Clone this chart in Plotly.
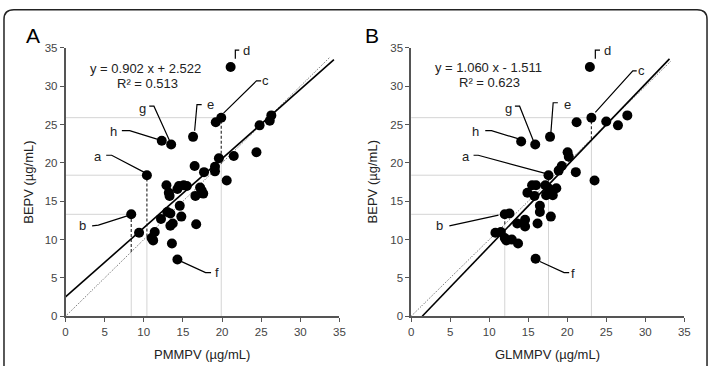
import plotly.graph_objects as go

# ---------------- data ----------------
# Panel A: PMMPV (x) vs BEPV (y)
pm_x = [8.4, 9.4, 10.4, 11.0, 11.2, 11.4, 12.2, 12.3, 12.9, 13.0, 13.2, 13.3, 13.4, 13.4, 13.5,
        13.6, 13.7, 14.3, 14.3, 14.5, 14.6, 14.8, 15.1, 15.5, 16.3, 16.5, 16.6, 16.7, 17.2, 17.4,
        17.6, 17.7, 19.1, 19.1, 19.2, 19.6, 19.9, 20.6, 21.1, 21.5, 24.4, 24.8, 26.1, 26.3]
pm_y = [13.3, 10.9, 18.4, 10.2, 9.9, 11.0, 12.7, 22.9, 17.1, 13.6, 16.1, 15.7, 13.4, 11.8, 22.4,
        9.5, 12.1, 7.4, 16.6, 17.0, 14.4, 13.0, 17.1, 17.0, 23.4, 19.6, 15.7, 12.0, 16.8, 16.4,
        16.0, 18.8, 19.5, 18.9, 25.3, 20.6, 25.9, 17.7, 32.5, 20.9, 21.4, 24.9, 25.5, 26.2]
# Panel B: GLMMPV (x) vs BEPV (y)
gl_x = [12.0, 12.6, 10.8, 11.5, 12.0, 12.2, 12.9, 13.7, 13.6, 14.6, 14.6, 16.2, 15.95, 16.5,
        16.5, 17.9, 14.9, 15.5, 16.0, 15.8, 17.2, 17.6, 18.6, 17.3, 18.15, 17.8, 17.6, 18.9,
        19.3, 20.05, 20.2, 21.1, 23.5, 21.2, 23.1, 22.9, 25.0, 26.5, 27.7, 17.8, 15.9, 14.1]
gl_y = [13.3, 13.4, 10.9, 11.0, 10.2, 9.9, 10.0, 9.5, 12.1, 12.6, 11.7, 12.1, 7.5, 14.4,
        13.6, 13.0, 16.1, 17.1, 17.1, 15.7, 17.1, 16.7, 16.7, 15.8, 15.8, 16.3, 18.4, 19.0,
        19.6, 21.4, 20.8, 18.8, 17.7, 25.3, 25.9, 32.5, 25.4, 24.9, 26.2, 23.4, 22.4, 22.8]

# regression fits
pm_slope, pm_icpt, pm_r2 = 0.902, 2.522, 0.513
gl_slope, gl_icpt, gl_r2 = 1.060, -1.511, 0.623

# labelled samples: (label, x, y) per panel
pm_labels = [("a", 10.4, 18.4), ("b", 8.4, 13.3), ("c", 19.9, 25.9), ("d", 21.1, 32.5),
             ("e", 16.3, 23.4), ("f", 14.3, 7.4), ("g", 13.5, 22.4), ("h", 12.3, 22.9)]
gl_labels = [("a", 17.6, 18.4), ("b", 12.0, 13.3), ("c", 23.1, 25.9), ("d", 22.9, 32.5),
             ("e", 17.8, 23.4), ("f", 15.95, 7.5), ("g", 15.9, 22.4), ("h", 14.1, 22.8)]
ref_labels = ["a", "b", "c"]  # samples with guide lines

# leader geometry (offsets relative to point): list of (dx, dy) path vertices, label offset
pm_leaders = {
    "a": ([(-0.2, 0.3), (-4.5, 2.6), (-5.2, 2.6)], (-6.3, 2.5)),
    "b": ([(-0.2, -0.1), (-4.2, -1.4), (-5.0, -1.5)], (-6.2, -1.5)),
    "c": ([(0.3, 0.6), (4.5, 4.8), (5.1, 4.8)], (5.6, 4.8)),
    "d": ([(0.6, 1.1), (0.6, 2.2), (1.1, 2.2)], (2.0, 2.2)),
    "e": ([(0.2, 0.8), (0.5, 4.2), (1.1, 4.2)], (2.2, 4.2)),
    "f": ([(0.4, -0.2), (3.6, -1.7), (4.3, -1.7)], (5.1, -1.7)),
    "g": ([(-0.2, 0.5), (-2.2, 5.0), (-2.8, 5.0)], (-3.6, 4.7)),
    "h": ([(-0.3, 0.1), (-4.1, 1.3), (-5.1, 1.3)], (-6.2, 1.2)),
}
gl_leaders = {
    "a": ([(-0.3, 0.2), (-9.0, 2.6), (-9.6, 2.6)], (-10.6, 2.5)),
    "b": ([(-0.8, -0.1), (-6.5, -1.45), (-7.1, -1.5)], (-8.3, -1.5)),
    "c": ([(0.5, 0.7), (5.3, 6.1), (5.8, 6.1)], (6.4, 6.1)),
    "d": ([(0.7, 1.1), (0.7, 2.2), (1.3, 2.2)], (2.2, 2.2)),
    "e": ([(0.1, 0.45), (0.4, 4.45), (1.0, 4.45)], (2.25, 4.2)),
    "f": ([(0.55, -0.35), (3.65, -1.8), (4.3, -1.8)], (4.85, -1.95)),
    "g": ([(-0.2, 0.4), (-2.0, 5.0), (-2.6, 5.0)], (-3.45, 4.7)),
    "h": ([(-0.2, 0.3), (-3.8, 1.4), (-4.6, 1.4)], (-5.9, 1.3)),
}

axis_ticks = [0, 5, 10, 15, 20, 25, 30, 35]
x_titles = ["PMMPV (µg/mL)", "GLMMPV (µg/mL)"]
y_title = "BEPV (µg/mL)"
panel_letters = ["A", "B"]

# ---------------- figure ----------------
W, H = 715, 370
fig = go.Figure()

panels = [
    dict(xs=pm_x, ys=pm_y, slope=pm_slope, icpt=pm_icpt, r2=pm_r2, labels=pm_labels,
         leaders=pm_leaders, xa="x", ya="y", dom=(63.3, 340.7), xmax_fit=34.3,
         eq_px=(144.5, 64.5), r2_px=(146, 80), letter_px=(30, 30)),
    dict(xs=gl_x, ys=gl_y, slope=gl_slope, icpt=gl_icpt, r2=gl_r2, labels=gl_labels,
         leaders=gl_leaders, xa="x2", ya="y2", dom=(413.3, 690.0), xmax_fit=33.1,
         eq_px=(491.5, 63.5), r2_px=(492.5, 79), letter_px=(374, 30)),
]

y_dom = (1 - 320.7 / H, 1 - 43.3 / H)
grey = "#d4d4d4"

for i, p in enumerate(panels):
    xa, ya = p["xa"], p["ya"]
    # identity line (dotted)
    idmax = 33.8 if i == 0 else 33.3
    fig.add_trace(go.Scatter(x=[0, idmax], y=[0, idmax], mode="lines", xaxis=xa, yaxis=ya,
                             line=dict(color="#555", width=1, dash="1px,1.5px"), hoverinfo="skip"))
    # regression line
    x0 = max(0.0, -p["icpt"] / p["slope"])
    x1 = p["xmax_fit"]
    fig.add_trace(go.Scatter(x=[x0, x1], y=[p["slope"] * x0 + p["icpt"], p["slope"] * x1 + p["icpt"]],
                             mode="lines", xaxis=xa, yaxis=ya,
                             line=dict(color="black", width=1.6), hoverinfo="skip"))
    # guide lines for a, b, c
    for lab, lx, ly in p["labels"]:
        if lab not in ref_labels:
            continue
        fig.add_shape(type="line", xref=xa, yref=ya, x0=0, x1=lx, y0=ly, y1=ly,
                      line=dict(color=grey, width=1), layer="below")
        fig.add_shape(type="line", xref=xa, yref=ya, x0=lx, x1=lx, y0=0, y1=lx,
                      line=dict(color=grey, width=1), layer="below")
        fig.add_shape(type="line", xref=xa, yref=ya, x0=lx, x1=lx, y0=lx, y1=ly,
                      line=dict(color="#333", width=1.2, dash="3px,2px"), layer="below")
    # points
    fig.add_trace(go.Scatter(x=p["xs"], y=p["ys"], mode="markers", xaxis=xa, yaxis=ya,
                             marker=dict(color="black", size=10, line=dict(width=0))))
    # leaders and labels
    for lab, lx, ly in p["labels"]:
        verts, (tx, ty) = p["leaders"][lab]
        fig.add_trace(go.Scatter(x=[lx + dx for dx, dy in verts], y=[ly + dy for dx, dy in verts],
                                 mode="lines", xaxis=xa, yaxis=ya,
                                 line=dict(color="black", width=1.2), hoverinfo="skip"))
        fig.add_annotation(x=lx + tx, y=ly + ty, xref=xa, yref=ya, text=lab, showarrow=False,
                           font=dict(size=13, color="#222", family="Arial, Liberation Sans"),
                           xanchor="center", yanchor="middle")
    # equation
    sign = "+" if p["icpt"] >= 0 else "-"
    eq = f"y = {p['slope']:.3f} x {sign} {abs(p['icpt']):.3f}"
    fig.add_annotation(x=p["eq_px"][0] / W, y=1 - p["eq_px"][1] / H, xref="paper", yref="paper",
                       text=eq, showarrow=False, xanchor="center", yanchor="middle",
                       font=dict(size=13, color="#222", family="Arial, Liberation Sans"))
    fig.add_annotation(x=p["r2_px"][0] / W, y=1 - p["r2_px"][1] / H, xref="paper", yref="paper",
                       text=f"R² = {p['r2']:.3f}", showarrow=False, xanchor="center", yanchor="middle",
                       font=dict(size=13, color="#222", family="Arial, Liberation Sans"))
    fig.add_annotation(x=p["letter_px"][0] / W, y=1 - p["letter_px"][1] / H, xref="paper", yref="paper",
                       text=panel_letters[i], showarrow=False, xanchor="center", yanchor="middle",
                       font=dict(size=21, color="black", family="Arial, Liberation Sans"))
    # axis titles
    cx = (p["dom"][0] + p["dom"][1]) / 2
    fig.add_annotation(x=cx / W, y=1 - 360 / H, xref="paper", yref="paper", text=x_titles[i],
                       showarrow=False, xanchor="center", yanchor="middle",
                       font=dict(size=13, color="#222", family="Arial, Liberation Sans"))
    fig.add_annotation(x=(25 if i == 0 else 374) / W, y=1 - 182 / H, xref="paper", yref="paper",
                       text=y_title, showarrow=False, textangle=-90, xanchor="center", yanchor="middle",
                       font=dict(size=13, color="#222", family="Arial, Liberation Sans"))

axis_common = dict(range=[0, 35], tickvals=axis_ticks, ticktext=[str(t) for t in axis_ticks],
                   showgrid=False, zeroline=False, showline=True, linecolor="#555", linewidth=1.5,
                   ticks="outside", ticklen=4, tickcolor="#555", tickwidth=1,
                   tickfont=dict(size=11.5, color="#444", family="Arial, Liberation Sans"), fixedrange=True)

fig.update_layout(
    width=W, height=H, margin=dict(l=0, r=0, t=0, b=0), showlegend=False,
    paper_bgcolor="white", plot_bgcolor="white",
    xaxis=dict(domain=[panels[0]["dom"][0] / W, panels[0]["dom"][1] / W], anchor="y", **axis_common),
    yaxis=dict(domain=list(y_dom), anchor="x", **axis_common),
    xaxis2=dict(domain=[panels[1]["dom"][0] / W, panels[1]["dom"][1] / W], anchor="y2", **axis_common),
    yaxis2=dict(domain=list(y_dom), anchor="x2", **axis_common),
)

# rounded outer frame (paper coordinates)
def P(px, py):
    return f"{px / W:.5f},{1 - py / H:.5f}"
frame = (f"M {P(1, 372)} L {P(1, 14)} Q {P(1, 4)} {P(11, 4)} L {P(703, 4)} "
         f"Q {P(713, 4)} {P(713, 14)} L {P(713, 372)}")
fig.add_shape(type="path", xref="paper", yref="paper", path=frame,
              line=dict(color="#222", width=1.5))

fig.write_html("out.html")
